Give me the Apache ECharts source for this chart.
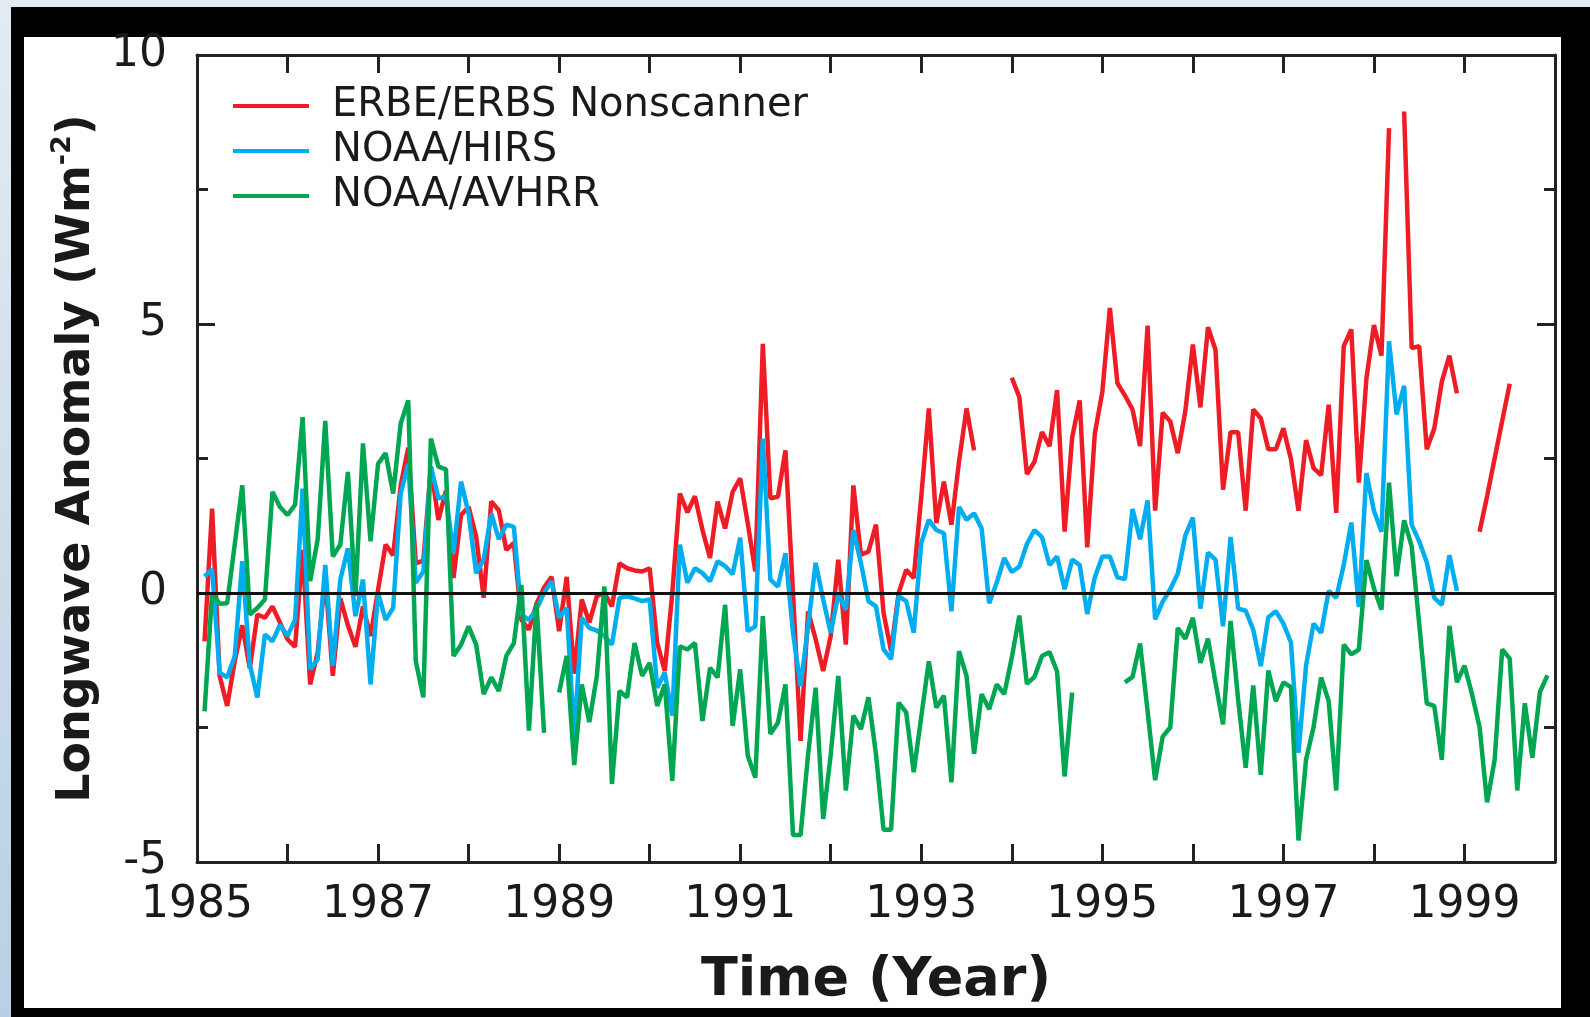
<!DOCTYPE html>
<html>
<head>
<meta charset="utf-8">
<script src="https://cdn.jsdelivr.net/npm/echarts@6/dist/echarts.min.js"></script>
<style>
html,body{margin:0;padding:0;width:1590px;height:1017px;overflow:hidden;
  background:linear-gradient(to bottom,#e3ecf3,#b9cfe3);}
#frame{position:absolute;left:11px;top:7px;width:1579px;height:1010px;background:#000;}
#panel{position:absolute;left:24px;top:37px;width:1537px;height:971px;background:#fff;}
#chart{position:absolute;left:0;top:0;width:1590px;height:1017px;}
</style>
</head>
<body>
<div id="frame"></div>
<div id="panel"></div>
<div id="chart"></div>
<script>
// Monthly anomalies, first value = Feb 1985 (month index 1), null = no data
const startYear = 1985;
const firstMonth = 1;
const seriesNames = ['ERBE/ERBS Nonscanner', 'NOAA/HIRS', 'NOAA/AVHRR'];
const xTickYears = [1985, 1987, 1989, 1991, 1993, 1995, 1997, 1999];
const yTickLabels = [-5, 0, 5, 10];

const ERBE = [
 -0.9, 1.57, -1.54, -2.1, -1.27, -0.6, -1.4, -0.4, -0.46, -0.25, -0.55, -0.86,
 -1.0, 0.8, -1.7, -1.1, 0.3, -1.54, -0.1, -0.6, -1.0, -0.25, -0.8, 0.06,
 0.9, 0.7, 2.0, 2.7, 0.55, 0.6, 2.35, 1.36, 1.9, 0.28, 1.45, 1.6,
 1.05, -0.09, 1.7, 1.54, 0.8, 0.93, -0.5, -0.68, -0.2, 0.1, 0.3, -0.71,
 0.3, -1.5, -0.12, -0.55, -0.06, 0.0, -0.25, 0.55, 0.46, 0.42, 0.4, 0.46,
 -0.93, -1.45, 0.0, 1.85, 1.5, 1.8, 1.17, 0.65, 1.7, 1.2, 1.88, 2.13,
 1.3, 0.4, 4.63, 1.76, 1.79, 2.65, 0.0, -2.75, -0.34, -0.86, -1.45, -0.8,
 0.62, -0.96, 2.0, 0.71, 0.77, 1.27, -0.37, -1.08, 0.0, 0.43, 0.28, 1.79,
 3.43, 1.3, 2.07, 1.27, 2.44, 3.43, 2.65, null, null, null, null, 4.0,
 3.64, 2.21, 2.44, 2.99, 2.73, 3.77, 1.14, 2.89, 3.58, 0.85, 2.96, 3.74,
 5.3, 3.9, 3.67, 3.41, 2.73, 4.97, 1.53, 3.35, 3.19, 2.6, 3.38, 4.62,
 3.45, 4.94, 4.52, 1.92, 2.99, 2.99, 1.53, 3.41, 3.25, 2.67, 2.67, 3.06,
 2.49, 1.53, 2.84, 2.32, 2.19, 3.5, 1.49, 4.59, 4.9, 2.05, 3.98, 4.98,
 4.41, 8.64, null, 8.95, 4.55, 4.59, 2.67, 3.06, 3.93, 4.41, 3.71, null,
 null, 1.14, 1.8, 2.5, 3.2, 3.89, null, null, null, null, null
];

const HIRS = [
 0.31, 0.44, -1.48, -1.57, -1.17, 0.59, -1.33, -1.94, -0.77, -0.9, -0.59, -0.8,
 -0.5, 1.94, -1.42, -1.23, 0.52, -1.36, 0.25, 0.83, -0.43, 0.25, -1.7, 0.0,
 -0.5, -0.28, 1.85, 2.4, 0.19, 0.4, 2.35, 1.76, 1.8, 0.74, 2.07, 1.48,
 0.37, 0.62, 1.48, 1.0, 1.27, 1.23, -0.4, -0.5, -0.3, 0.0, 0.22, -0.46,
 -0.28, -2.65, -0.46, -0.65, -0.7, -0.8, -0.96, -0.09, -0.06, -0.1, -0.15, -0.12,
 -1.76, -1.48, -2.28, 0.9, 0.19, 0.46, 0.37, 0.22, 0.59, 0.5, 0.35, 1.03,
 -0.71, -0.62, 2.87, 0.25, 0.12, 0.74, -0.74, -1.73, -0.62, 0.56, -0.12, -0.74,
 -0.03, -0.31, 1.17, 0.56, -0.15, -0.25, -1.05, -1.23, -0.06, -0.15, -0.74, 0.93,
 1.36, 1.17, 1.11, -0.34, 1.6, 1.36, 1.48, 1.2, -0.19, 0.19, 0.65, 0.39,
 0.49, 0.91, 1.17, 1.04, 0.52, 0.68, 0.07, 0.62, 0.52, -0.39, 0.29, 0.68,
 0.68, 0.29, 0.26, 1.56, 1.0, 1.72, -0.49, -0.16, 0.07, 0.36, 1.07, 1.4,
 -0.29, 0.75, 0.62, -0.62, 1.04, -0.29, -0.33, -0.68, -1.36, -0.45, -0.34, -0.57,
 -0.92, -2.97, -1.35, -0.57, -0.74, 0.04, -0.09, 0.52, 1.31, -0.26, 2.23, 1.53,
 1.14, 4.68, 3.32, 3.85, 1.27, 0.96, 0.57, -0.09, -0.22, 0.7, 0.04, null,
 null, null, null, null, null, null, null, null, null, null, null
];

const AVHRR = [
 -2.2, 0.0, -0.2, -0.19, 0.9, 2.0, -0.4, -0.28, -0.12, 1.88, 1.6, 1.45,
 1.64, 3.27, 0.22, 1.0, 3.2, 0.68, 0.9, 2.25, -0.06, 2.78, 0.96, 2.4,
 2.6, 1.85, 3.15, 3.58, -1.27, -1.94, 2.87, 2.35, 2.3, -1.17, -0.96, -0.62,
 -0.96, -1.88, -1.57, -1.82, -1.17, -0.93, 0.15, -2.56, -0.19, -2.6, null, -1.85,
 -1.17, -3.2, -1.7, -2.4, -1.54, 0.12, -3.55, -1.82, -1.94, -0.93, -1.54, -1.3,
 -2.1, -1.7, -3.49, -0.99, -1.05, -0.93, -2.38, -1.39, -1.57, -0.22, -2.47, -1.42,
 -3.02, -3.43, -0.43, -2.62, -2.41, -1.7, -4.5, -4.5, -3.0, -1.76, -4.2, -3.0,
 -1.54, -3.67, -2.28, -2.53, -1.94, -3.0, -4.4, -4.4, -2.04, -2.22, -3.33, -2.3,
 -1.27, -2.13, -1.91, -3.52, -1.08, -1.54, -2.99, -1.88, -2.16, -1.7, -1.88, -1.2,
 -0.42, -1.69, -1.56, -1.17, -1.1, -1.46, -3.41, -1.85, null, null, null, null,
 null, null, -1.66, -1.56, -0.94, -2.2, -3.48, -2.67, -2.5, -0.65, -0.85, -0.46,
 -1.3, -0.85, -1.66, -2.44, -0.52, -1.98, -3.25, -1.72, -3.38, -1.44, -2.01, -1.66,
 -1.75, -4.6, -3.1, -2.49, -1.57, -2.01, -3.67, -0.96, -1.14, -1.05, 0.61, 0.09,
 -0.31, 2.05, 0.31, 1.35, 0.87, -0.57, -2.05, -2.1, -3.1, -0.61, -1.66, -1.35,
 -1.88, -2.49, -3.89, -3.1, -1.05, -1.22, -3.67, -2.05, -3.06, -1.84, -1.53
];

const colors = ['#ee1c25', '#00aeef', '#00a651'];
const FONT = 'DejaVu Sans';
const INK = '#1a1a1a';

function toPoints(arr) {
  return arr.map((v, i) => [startYear + (firstMonth + i) / 12, v == null ? '-' : v]);
}

const chart = echarts.init(document.getElementById('chart'), null, {renderer: 'canvas'});

const axisLineStyle = {color: '#222', width: 3};
const baseX = {
  type: 'value', min: 1985, max: 2000, interval: 1,
  axisLine: {show: true, onZero: false, lineStyle: axisLineStyle},
  axisTick: {show: true, inside: true, length: 18, lineStyle: {color: '#222', width: 3}},
  splitLine: {show: false}
};
const baseY = {
  type: 'value', min: -5, max: 10, interval: 5,
  axisLine: {show: true, onZero: false, lineStyle: axisLineStyle},
  axisTick: {show: true, inside: true, length: 18, lineStyle: {color: '#222', width: 3}},
  minorTick: {show: true, splitNumber: 2, length: 11, lineStyle: {color: '#222', width: 3}},
  splitLine: {show: false},
  minorSplitLine: {show: false}
};

const option = {
  backgroundColor: 'transparent',
  animation: false,
  color: colors,
  grid: {left: 197, right: 35, top: 55, bottom: 155, containLabel: false},
  legend: {
    show: true, orient: 'vertical', left: 228, top: 79,
    data: seriesNames,
    icon: 'rect', itemWidth: 76, itemHeight: 4, itemGap: 1,
    textStyle: {fontFamily: FONT, fontSize: 40, color: INK, lineHeight: 44, padding: [0, 0, 0, 18]}
  },
  xAxis: [
    Object.assign({}, baseX, {
      position: 'bottom',
      axisLabel: {
        show: true, margin: 22, fontFamily: FONT, fontSize: 44, color: INK,
        formatter: v => (xTickYears.indexOf(Math.round(v)) >= 0 ? String(Math.round(v)) : '')
      },
      name: 'Time (Year)', nameLocation: 'middle', nameGap: 92,
      nameTextStyle: {fontFamily: FONT, fontWeight: 'bold', fontSize: 54, color: INK}
    }),
    Object.assign({}, baseX, {position: 'top', axisLabel: {show: false}})
  ],
  yAxis: [
    Object.assign({}, baseY, {
      position: 'left',
      axisLabel: {
        show: true, margin: 30, fontFamily: FONT, fontSize: 44, color: INK,
        formatter: v => (yTickLabels.indexOf(v) >= 0 ? String(v) : '')
      },
      name: '{a|Longwave Anomaly (Wm}{s|-2}{a|)}',
      nameLocation: 'middle', nameRotate: 90, nameGap: 86,
      nameTextStyle: {
        fontFamily: FONT, fontWeight: 'bold', fontSize: 46, color: INK,
        rich: {
          a: {fontFamily: FONT, fontWeight: 'bold', fontSize: 46, color: INK, lineHeight: 56},
          s: {fontFamily: FONT, fontWeight: 'bold', fontSize: 27, color: INK, verticalAlign: 'top', lineHeight: 56, padding: [0, 0, 24, 0]}
        }
      }
    }),
    Object.assign({}, baseY, {position: 'right', axisLabel: {show: false}})
  ],
  series: [
    {name: seriesNames[0], type: 'line', data: toPoints(ERBE), showSymbol: false, symbol: 'none',
     connectNulls: false, lineStyle: {width: 4.5, color: colors[0]}, z: 2},
    {name: seriesNames[1], type: 'line', data: toPoints(HIRS), showSymbol: false, symbol: 'none',
     connectNulls: false, lineStyle: {width: 4.5, color: colors[1]}, z: 3},
    {name: seriesNames[2], type: 'line', data: toPoints(AVHRR), showSymbol: false, symbol: 'none',
     connectNulls: false, lineStyle: {width: 4.5, color: colors[2]}, z: 4,
     markLine: {silent: true, symbol: 'none', label: {show: false},
       lineStyle: {color: '#111', width: 3, type: 'solid'}, data: [{yAxis: 0}]}}
  ]
};
chart.setOption(option);
</script>
</body>
</html>
